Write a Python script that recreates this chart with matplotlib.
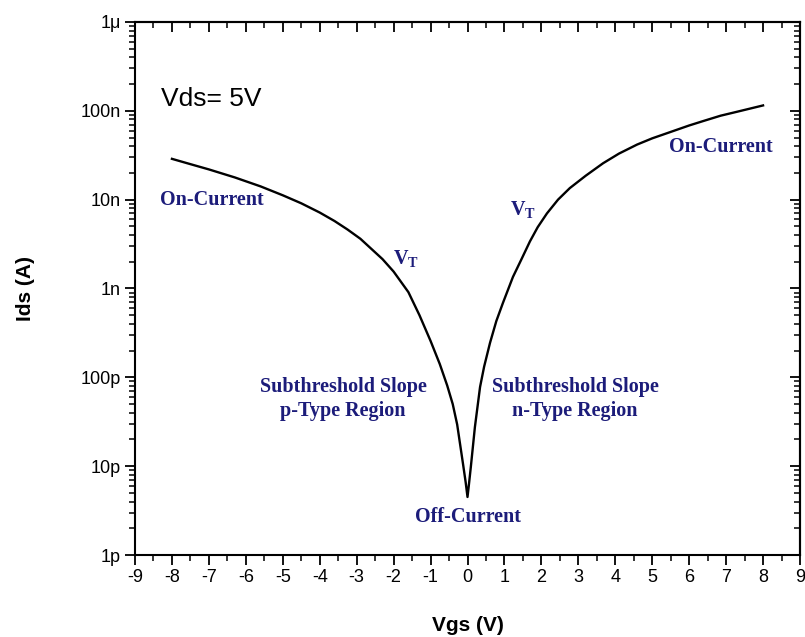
import numpy as np
import matplotlib.pyplot as plt
from matplotlib.ticker import FixedLocator, LogLocator, MultipleLocator, NullFormatter

# transfer curve, Vds = 5 V
vgs = [-8.0, -7.5, -7.0, -6.3, -5.6, -5.0, -4.5, -4.0, -3.6, -3.25, -2.9, -2.3,
       -2.0, -1.6, -1.3, -1.0, -0.75, -0.55, -0.4, -0.28, -0.12, -0.05, 0.0,
       0.04, 0.09, 0.2, 0.34, 0.45, 0.61, 0.78, 0.96, 1.23, 1.45, 1.69, 1.9,
       2.15, 2.45, 2.77, 3.2, 3.67, 4.1, 4.59, 5.0, 5.48, 6.0, 6.38, 6.85,
       7.3, 7.65, 8.0]
ids = [2.88e-8, 2.51e-8, 2.19e-8, 1.78e-8, 1.41e-8, 1.12e-8, 9.1e-9, 7.16e-9,
       5.75e-9, 4.62e-9, 3.63e-9, 2.14e-9, 1.55e-9, 9.1e-10, 5.0e-10, 2.57e-10,
       1.41e-10, 8.1e-11, 5.0e-11, 2.95e-11, 1.05e-11, 6.6e-12, 4.5e-12,
       6.3e-12, 9.8e-12, 2.75e-11, 7.8e-11, 1.32e-10, 2.45e-10, 4.3e-10,
       6.9e-10, 1.35e-9, 2.09e-9, 3.39e-9, 4.9e-9, 7.0e-9, 1.0e-8, 1.35e-8,
       1.86e-8, 2.57e-8, 3.3e-8, 4.17e-8, 4.9e-8, 5.75e-8, 6.84e-8, 7.67e-8,
       8.81e-8, 9.77e-8, 1.06e-7, 1.15e-7]

y_ticks = [1e-12, 1e-11, 1e-10, 1e-9, 1e-8, 1e-7, 1e-6]
y_labels = ['1p', '10p', '100p', '1n', '10n', '100n', '1\u03bc']
x_ticks = list(range(-9, 10))

note_color = '#1c1c7a'

plt.rcParams['font.family'] = ['Liberation Sans', 'DejaVu Sans']

fig = plt.figure(figsize=(8.05, 6.37), dpi=100)
ax = fig.add_axes([0.1677, 0.1287, 0.8261, 0.8368])

ax.plot(vgs, ids, color='black', lw=1.7, solid_joinstyle='round')
ax.set_yscale('log')
ax.set_xlim(-9, 9)
ax.set_ylim(1e-12, 1e-6)

ax.xaxis.set_major_locator(FixedLocator(x_ticks))
ax.xaxis.set_minor_locator(MultipleLocator(0.5))
ax.yaxis.set_major_locator(FixedLocator(y_ticks))
ax.yaxis.set_minor_locator(LogLocator(base=10, subs=np.arange(2, 10)))
ax.yaxis.set_minor_formatter(NullFormatter())
ax.set_yticklabels(y_labels)
ax.set_xticklabels([str(t) for t in x_ticks])

ax.tick_params(which='major', direction='out', length=7, width=1.3, labelsize=13, pad=3)
ax.tick_params(which='minor', direction='out', length=4, width=1.1)
for s in ax.spines.values():
    s.set_linewidth(1.5)

# mirrored ticks pointing inward on top and right
top = ax.secondary_xaxis('top')
top.xaxis.set_major_locator(FixedLocator(x_ticks))
top.xaxis.set_minor_locator(MultipleLocator(0.5))
top.tick_params(which='major', direction='in', length=7, width=1.3, labeltop=False)
top.tick_params(which='minor', direction='in', length=4, width=1.1)
right = ax.secondary_yaxis('right')
right.yaxis.set_major_locator(FixedLocator(y_ticks))
right.yaxis.set_minor_locator(LogLocator(base=10, subs=np.arange(2, 10)))
right.yaxis.set_minor_formatter(NullFormatter())
right.tick_params(which='major', direction='in', length=7, width=1.3, labelright=False)
right.tick_params(which='minor', direction='in', length=4, width=1.1)
for s in list(top.spines.values()) + list(right.spines.values()):
    s.set_linewidth(1.5)

ax.set_xlabel('Vgs (V)', fontsize=15, fontweight='bold', labelpad=22)
ax.set_ylabel('Ids (A)', fontsize=15, fontweight='bold', labelpad=33)

ax.text(-8.3, 1.35e-7, 'Vds= 5V', fontsize=19, va='center', ha='left')

serif = dict(family='Liberation Serif', fontweight='bold', color=note_color, fontsize=14.5)
ax.text(-8.32, 1.0e-8, 'On-Current', ha='left', va='center', **serif)
ax.text(5.45, 3.9e-8, 'On-Current', ha='left', va='center', **serif)
ax.text(-1.66, 2.15e-9, 'V$_\\mathregular{T}$', ha='center', va='center', **serif)
ax.text(1.5, 7.6e-9, 'V$_\\mathregular{T}$', ha='center', va='center', **serif)
ax.text(-3.37, 5.7e-11, 'Subthreshold Slope\np-Type Region', ha='center', va='center',
        multialignment='center', linespacing=1.25, **serif)
ax.text(2.91, 5.7e-11, 'Subthreshold Slope\nn-Type Region', ha='center', va='center',
        multialignment='center', linespacing=1.25, **serif)
ax.text(0.0, 2.65e-12, 'Off-Current', ha='center', va='center', **serif)

fig.savefig('out.png', dpi=100)
